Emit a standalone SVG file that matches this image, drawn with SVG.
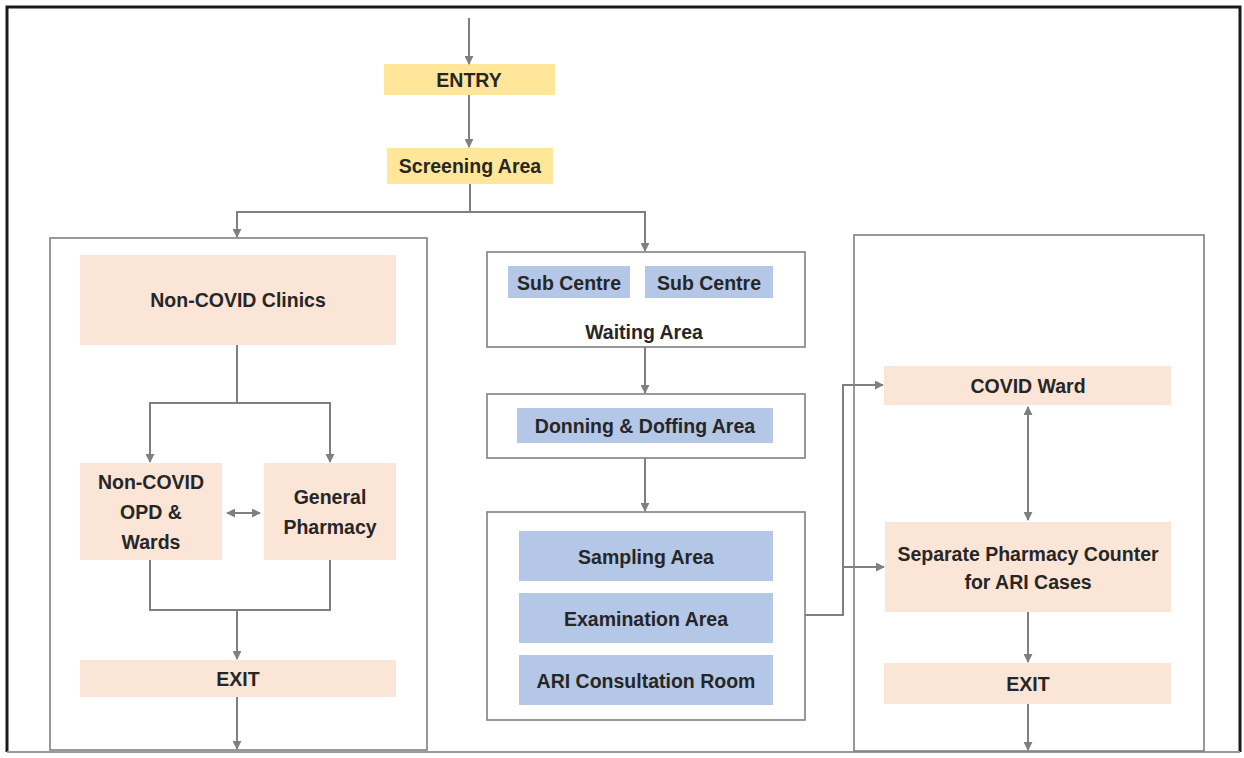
<svg xmlns="http://www.w3.org/2000/svg" width="1244" height="758" viewBox="0 0 1244 758">
<defs>
<marker id="ah" viewBox="0 0 10 10" refX="9" refY="5" markerWidth="9" markerHeight="9" markerUnits="userSpaceOnUse" orient="auto-start-reverse">
<path d="M0,0 L10,5 L0,10 z" fill="#7f7f7f"/>
</marker>
<style>
.frame{fill:none;stroke:#808080;stroke-width:1.6}
.yel{fill:#ffe699}
.pch{fill:#fbe5d6}
.blu{fill:#b4c7e7}
.t{font-family:"Liberation Sans",Arial,sans-serif;font-weight:bold;font-size:19.5px;fill:#262626;text-anchor:middle;dominant-baseline:central}
.c{fill:none;stroke:#7f7f7f;stroke-width:2}
.a{marker-end:url(#ah)}
.b{marker-start:url(#ah);marker-end:url(#ah)}
</style>
</defs>
<rect x="0" y="0" width="1244" height="758" fill="#ffffff"/>
<path d="M7,752 V7 H1240 V752" fill="none" stroke="#1a1a1a" stroke-width="3"/>
<path d="M7,752 H1240" fill="none" stroke="#9a9a9a" stroke-width="2"/>

<g id="containers">
<rect id="left-zone" class="frame" x="50" y="238" width="377" height="512"/>
<rect id="right-zone" class="frame" x="854" y="235" width="350" height="516"/>
</g>

<g id="entry"><rect class="yel" x="384" y="64" width="171" height="31"/><text class="t" x="469" y="80">ENTRY</text></g>
<g id="screening"><rect class="yel" x="387" y="148" width="166" height="36"/><text class="t" x="470" y="166">Screening Area</text></g>

<g id="noncovid-clinics"><rect class="pch" x="80" y="255" width="316" height="90"/><text class="t" x="238" y="300">Non-COVID Clinics</text></g>
<g id="noncovid-opd"><rect class="pch" x="80" y="463" width="142" height="97"/><text class="t" x="151" y="512"><tspan x="151" dy="-30">Non-COVID</tspan><tspan x="151" dy="30">OPD &amp;</tspan><tspan x="151" dy="30">Wards</tspan></text></g>
<g id="general-pharmacy"><rect class="pch" x="264" y="463" width="132" height="97"/><text class="t" x="330" y="512"><tspan x="330" dy="-15">General</tspan><tspan x="330" dy="30">Pharmacy</tspan></text></g>
<g id="exit-left"><rect class="pch" x="80" y="660" width="316" height="37"/><text class="t" x="238" y="679">EXIT</text></g>

<g id="waiting-area"><rect class="frame" x="487" y="252" width="318" height="95"/>
<rect class="blu" x="508" y="266" width="122" height="32"/><text class="t" x="569" y="283">Sub Centre</text>
<rect class="blu" x="645" y="266" width="128" height="32"/><text class="t" x="709" y="283">Sub Centre</text>
<text class="t" x="644" y="332">Waiting Area</text></g>

<g id="donning"><rect class="frame" x="487" y="394" width="318" height="64"/>
<rect class="blu" x="517" y="408" width="256" height="35"/><text class="t" x="645" y="426">Donning &amp; Doffing Area</text></g>

<g id="ari-block"><rect class="frame" x="487" y="512" width="318" height="208"/>
<rect class="blu" x="519" y="531" width="254" height="50"/><text class="t" x="646" y="557">Sampling Area</text>
<rect class="blu" x="519" y="593" width="254" height="50"/><text class="t" x="646" y="619">Examination Area</text>
<rect class="blu" x="519" y="655" width="254" height="50"/><text class="t" x="646" y="681">ARI Consultation Room</text></g>

<g id="covid-ward"><rect class="pch" x="884" y="366" width="287" height="39"/><text class="t" x="1028" y="386">COVID Ward</text></g>
<g id="ari-pharmacy"><rect class="pch" x="885" y="522" width="286" height="90"/><text class="t" x="1028" y="567"><tspan x="1028" dy="-13">Separate Pharmacy Counter</tspan><tspan x="1028" dy="28">for ARI Cases</tspan></text></g>
<g id="exit-right"><rect class="pch" x="884" y="663" width="287" height="41"/><text class="t" x="1028" y="684">EXIT</text></g>

<g id="connectors">
<path class="c a" d="M469,18 V64"/>
<path class="c a" d="M469,95 V147"/>
<path class="c" d="M470,184 V212"/>
<path class="c a" d="M470,212 H237 V237"/>
<path class="c a" d="M470,212 H645 V251"/>
<path class="c" d="M237,345 V403"/>
<path class="c a" d="M237,403 H150 V462"/>
<path class="c a" d="M237,403 H330 V462"/>
<path class="c b" d="M227,513 H260"/>
<path class="c" d="M150,560 V610 H330 V560"/>
<path class="c a" d="M237,610 V659"/>
<path class="c a" d="M237,697 V749"/>
<path class="c a" d="M645,347 V393"/>
<path class="c a" d="M645,458 V511"/>
<path class="c a" d="M805,615 H843 V385 H883"/>
<path class="c a" d="M843,567 H884"/>
<path class="c b" d="M1028,407 V520"/>
<path class="c a" d="M1028,612 V662"/>
<path class="c a" d="M1028,704 V750"/>
</g>
</svg>
